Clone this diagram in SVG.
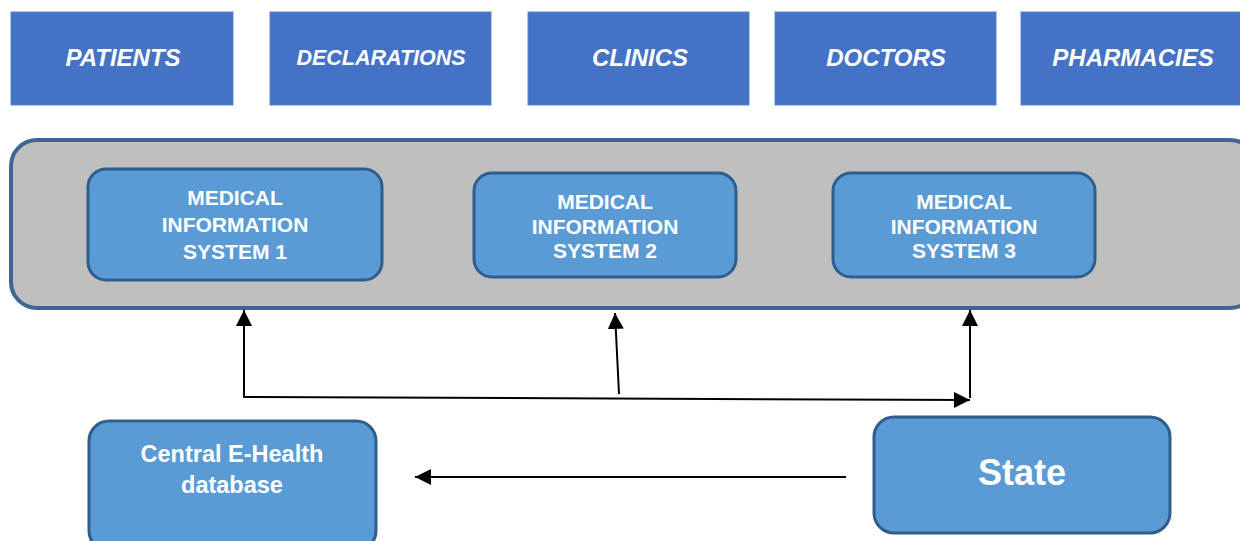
<svg xmlns="http://www.w3.org/2000/svg" width="1240" height="541" viewBox="0 0 1240 541">
<defs>
<style>
.top{fill:#4472c4;stroke:#5a82cc;stroke-width:1}
.tt{font-family:"Liberation Sans",Arial,sans-serif;font-weight:bold;font-style:italic;font-size:24px;fill:#fff;text-anchor:middle}
.mis{fill:#5b9bd5;stroke:#2f5e8c;stroke-width:3}
.mt{font-family:"Liberation Sans",Arial,sans-serif;font-weight:bold;font-size:21px;fill:#fff;text-anchor:middle}
.con{stroke:#000;stroke-width:2;fill:none}
</style>
<marker id="ahb" viewBox="0 0 10 10" refX="10" refY="5" markerWidth="16" markerHeight="16" markerUnits="userSpaceOnUse" orient="auto"><path d="M0,0 L10,5 L0,10 z" fill="#000"/></marker>
</defs>
<rect width="1240" height="541" fill="#fff"/>
<g id="patients"><rect class="top" x="11" y="12" width="222" height="93"/><text class="tt" x="123" y="66">PATIENTS</text></g>
<g id="declarations"><rect class="top" x="270" y="12" width="221" height="93"/><text class="tt" x="381" y="65" style="font-size:21.5px">DECLARATIONS</text></g>
<g id="clinics"><rect class="top" x="528" y="12" width="221" height="93"/><text class="tt" x="640" y="66">CLINICS</text></g>
<g id="doctors"><rect class="top" x="775" y="12" width="221" height="93"/><text class="tt" x="886" y="66">DOCTORS</text></g>
<g id="pharmacies"><rect class="top" x="1021" y="12" width="225" height="93"/><text class="tt" x="1133" y="66">PHARMACIES</text></g>
<g id="container"><rect x="11" y="140" width="1245" height="168" rx="26" fill="#bfbfbf" stroke="#3f6592" stroke-width="4"/></g>
<g id="mis1"><rect class="mis" x="88" y="169" width="294" height="111" rx="18"/><text class="mt" x="235" y="205">MEDICAL</text><text class="mt" x="235" y="232">INFORMATION</text><text class="mt" x="235" y="259">SYSTEM 1</text></g>
<g id="mis2"><rect class="mis" x="474" y="173" width="262" height="104" rx="18" stroke="#41719c"/><text class="mt" x="605" y="209">MEDICAL</text><text class="mt" x="605" y="234">INFORMATION</text><text class="mt" x="605" y="258">SYSTEM 2</text></g>
<g id="mis3"><rect class="mis" x="833" y="173" width="262" height="104" rx="18" stroke="#41719c"/><text class="mt" x="964" y="209">MEDICAL</text><text class="mt" x="964" y="234">INFORMATION</text><text class="mt" x="964" y="258">SYSTEM 3</text></g>
<g id="central"><rect class="mis" x="89" y="421" width="287" height="130" rx="20"/><text class="mt" x="232" y="462" style="font-size:23.5px">Central E-Health</text><text class="mt" x="232" y="493" style="font-size:23.5px">database</text></g>
<g id="state"><rect class="mis" x="874" y="417" width="296" height="116" rx="20" stroke="#41719c"/><text class="mt" x="1022" y="485" style="font-size:36px">State</text></g>
<g id="connectors">
<path class="con" d="M244,398 L244,310" marker-end="url(#ahb)"/>
<path class="con" d="M244,397 L970,400" marker-end="url(#ahb)"/>
<path class="con" d="M970,398 L970,310" marker-end="url(#ahb)"/>
<path class="con" d="M619,394 L615,313" marker-end="url(#ahb)"/>
<path class="con" d="M846,477 L415,477" marker-end="url(#ahb)"/>
</g>
</svg>
